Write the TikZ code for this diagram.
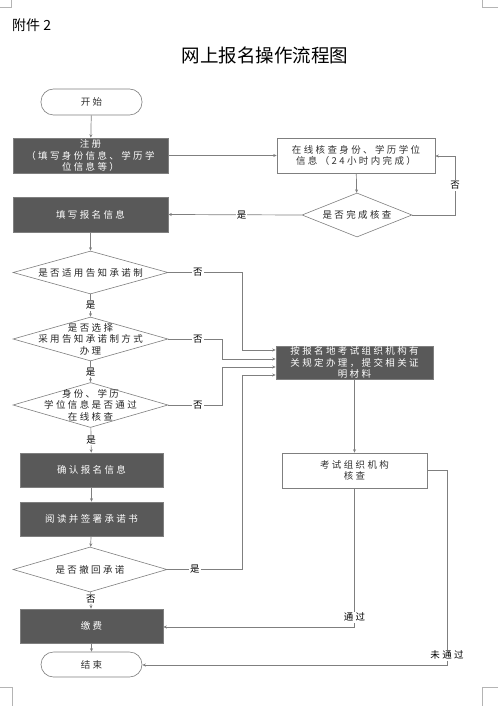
\documentclass[tikz,border=0pt]{standalone}
\usepackage{fontspec}
\setmainfont{Noto Sans CJK SC}
\newfontfamily\cjk{Noto Sans CJK SC}
\newfontfamily\cjksp[LetterSpace=25]{Noto Sans CJK SC}
\usetikzlibrary{shapes.geometric,arrows.meta}
\definecolor{lin}{HTML}{7F7F7F}
\definecolor{dark}{HTML}{595959}
\definecolor{crop}{HTML}{B4B4B4}
\tikzset{
  base/.style={inner sep=0pt, align=center, font=\cjksp\fontsize{9.5}{11.5}\selectfont},
  darkbox/.style={base, rectangle, draw=lin, line width=0.6pt, fill=dark, text=white},
  whitebox/.style={base, rectangle, draw=lin, line width=0.6pt, fill=white, text=black!80},
  term/.style={base, rectangle, rounded corners=12.5pt, draw=lin, line width=0.6pt, fill=white, text=black!80},
  dia/.style={shape=diamond, inner sep=0pt, draw=lin, line width=0.6pt, fill=white},
  diatext/.style={base, text=black!85},
  conn/.style={draw=lin, line width=0.7pt, -{Stealth[length=3.5pt,width=3pt]}},
  plain/.style={draw=lin, line width=0.7pt},
  lab/.style={base, fill=white, inner sep=1pt, text=black},
}
\begin{document}
\begin{tikzpicture}[x=1pt,y=-1pt]
\useasboundingbox (0,0) rectangle (498,719);
% crop marks
\draw[crop, line width=0.6pt] (0,7) -- (11.7,7) -- (11.7,0);
\draw[crop, line width=0.6pt] (498,7) -- (482,7) -- (482,0);
\draw[crop, line width=0.6pt] (0,687) -- (12,687) -- (12,706);
\draw[crop, line width=0.6pt] (498,687) -- (482,687) -- (482,706);
% titles
\node[anchor=west, inner sep=0pt, font=\cjk\fontsize{14}{16}\selectfont] (att) at (12,25) {附件 2};
\node[inner sep=0pt, font=\cjk\fontsize{18.5}{20}\selectfont] (title) at (265,55) {网上报名操作流程图};
% nodes
\node[term, minimum width=101pt, minimum height=26pt] (start) at (91.5,102) {开始};
\node[darkbox, minimum width=155pt, minimum height=35pt] (reg) at (90.5,155.5) {注册\\（填写身份信息、学历学\\位信息等）};
\node[whitebox, minimum width=158pt, minimum height=35pt] (check) at (356,155.5) {在线核查身份、学历学位\\信息（24小时内完成）};
\node[dia, minimum width=110pt, minimum height=44pt] (done) at (357,215) {};
\node[diatext] (donet) at (done) {是否完成核查};
\node[darkbox, minimum width=155pt, minimum height=35pt] (fill) at (90.5,214.5) {填写报名信息};
\node[dia, minimum width=155pt, minimum height=43pt] (d1) at (90.5,272.5) {};
\node[diatext] (d1t) at (d1) {是否适用告知承诺制};
\node[dia, minimum width=155pt, minimum height=44pt] (d2) at (90.5,339) {};
\node[diatext] (d2t) at (d2) {是否选择\\采用告知承诺制方式\\办理};
\node[dia, minimum width=155pt, minimum height=45pt] (d3) at (90.5,405) {};
\node[diatext] (d3t) at (d3) {身份、学历\\学位信息是否通过\\在线核查};
\node[darkbox, minimum width=143pt, minimum height=34pt] (confirm) at (91.5,470) {确认报名信息};
\node[darkbox, minimum width=143pt, minimum height=34pt] (read) at (91.5,519) {阅读并签署承诺书};
\node[dia, minimum width=154pt, minimum height=45pt] (d4) at (90,569.5) {};
\node[diatext] (d4t) at (d4) {是否撤回承诺};
\node[darkbox, minimum width=143pt, minimum height=34pt] (pay) at (91.5,626) {缴费};
\node[term, minimum width=101pt, minimum height=25pt] (end) at (91.5,664.5) {结束};
\node[darkbox, minimum width=157pt, minimum height=33pt] (rbox) at (354.5,362.5) {按报名地考试组织机构有\\关规定办理，提交相关证\\明材料};
\node[whitebox, minimum width=145pt, minimum height=35pt] (exam) at (354.5,470.5) {考试组织机构\\核查};
% helper coordinates
\coordinate (c1a) at (242,272.5);
\coordinate (c1b) at (242,350);
\coordinate (c2a) at (222,339);
\coordinate (c2b) at (222,359);
\coordinate (c3a) at (222,405);
\coordinate (c3b) at (222,367);
\coordinate (c4a) at (242,569.5);
\coordinate (c4b) at (242,375);
\coordinate (cd) at (455,215);
\coordinate (cdb) at (455,156);
\coordinate (ce) at (354.5,627);
\coordinate (cf) at (447,470.5);
\coordinate (cfb) at (447,665);
% connectors
\draw[conn] (start) -- (reg);
\draw[conn] (reg.east) -- (check.west);
\draw[conn] (check) -- (done);
\draw[conn] (done.east) -- (cd) -- node[lab, pos=0.5] (no0) {否} (cdb) -- (check.east |- cdb);
\draw[conn] (done.west) -- node[lab, pos=0.45] (yes0) {是} (fill.east);
\draw[conn] (fill) -- (d1);
\draw[conn] (d1) -- node[lab] (yes1) {是} (d2);
\draw[conn] (d2) -- node[lab] (yes2) {是} (d3);
\draw[conn] (d3) -- node[lab] (yes3) {是} (confirm);
\draw[conn] (confirm) -- (read);
\draw[conn] (read) -- (d4);
\draw[conn] (d4) -- node[lab, pos=0.4] (no4) {否} (pay);
\draw[conn] (pay) -- (end);
\draw[conn] (d1.east) -- node[lab, pos=0.4] (no1) {否} (c1a) -- (c1b) -- (rbox.west |- c1b);
\draw[conn] (d2.east) -- node[lab, pos=0.55] (no2) {否} (c2a) -- (c2b) -- (rbox.west |- c2b);
\draw[conn] (d3.east) -- node[lab, pos=0.55] (no3) {否} (c3a) -- (c3b) -- (rbox.west |- c3b);
\draw[conn] (d4.east) -- node[lab, pos=0.37] (yes4) {是} (c4a) -- (c4b) -- (rbox.west |- c4b);
\draw[conn] (rbox) -- (exam);
\draw[conn] (exam.south) -- node[lab, pos=0.93] (pass) {通过} (ce) -- (pay.east |- ce);
\draw[conn] (exam.east) -- (cf) -- node[lab, pos=0.95] (fail) {未通过} (cfb) -- (end.east |- cfb);
\end{tikzpicture}
\end{document}
